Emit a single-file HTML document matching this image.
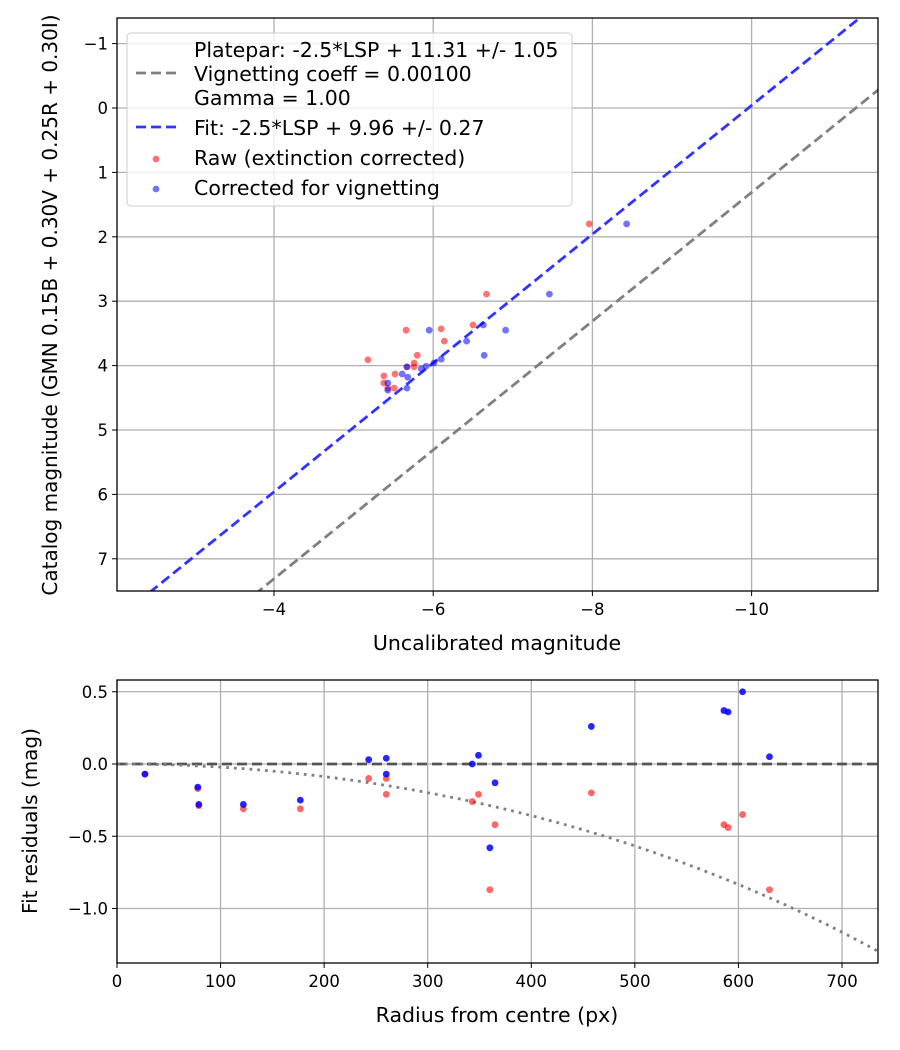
<!DOCTYPE html>
<html><head><meta charset="utf-8"><style>
body{margin:0;background:#fff}
svg{display:block;font-family:"DejaVu Sans","Liberation Sans",sans-serif}
</style></head><body>
<svg id="c" width="900" height="1050" viewBox="0 0 900 1050"></svg>
<script>
// Top panel data
const rawX=[-7.96,-6.67,-5.66,-6.10,-6.14,-6.50,-5.18,-5.80,-5.76,-5.67,-5.76,-5.38,-5.38,-5.43,-5.51,-5.52];
const rawY=[1.80,2.89,3.45,3.43,3.62,3.37,3.91,3.84,3.96,4.02,4.02,4.16,4.27,4.35,4.35,4.13];
const corX=[-8.43,-7.46,-6.91,-6.63,-6.42,-6.64,-5.95,-6.10,-6.01,-5.91,-5.67,-5.85,-5.61,-5.68,-5.43,-5.43,-5.67];
const corY=[1.80,2.89,3.45,3.37,3.62,3.84,3.45,3.90,3.96,4.01,4.02,4.05,4.13,4.18,4.27,4.38,4.35];
const fitOffset=9.96, plateOffset=11.31;
const topXTicks=[-4,-6,-8,-10];
const topYTicks=[-1,0,1,2,3,4,5,6,7];
// Bottom panel data
const radius=[27,78,79,122,177,243,260,260,343,349,365,360,458,586,590,604,630];
const resRaw=[-0.07,-0.17,-0.29,-0.31,-0.31,-0.10,-0.10,-0.21,-0.26,-0.21,-0.42,-0.87,-0.20,-0.42,-0.44,-0.35,-0.87];
const resCor=[-0.07,-0.16,-0.28,-0.28,-0.25,0.03,0.04,-0.07,0.00,0.06,-0.13,-0.58,0.26,0.37,0.36,0.50,0.05];
const vignCoeff=0.001;
const botXTicks=[0,100,200,300,400,500,600,700];
const botYTicks=[0.5,0.0,-0.5,-1.0];

const svg=document.getElementById('c');
const NS='http://www.w3.org/2000/svg';
function el(t,a,p){const e=document.createElementNS(NS,t);for(const k in a)e.setAttribute(k,a[k]);(p||svg).appendChild(e);return e;}
const fmt=v=>(v<0?'\u2212':'')+Math.abs(v);
const fmt1=v=>(v<0?'\u2212':'')+Math.abs(v).toFixed(1);

// Top axes
const T={l:117,r:878,t:18,b:591};
const tx=v=>274+(-4-v)*79.6;
const ty=v=>108+v*64.4;
const gT=el('g',{});


el('defs',{}).innerHTML='<clipPath id="cT"><rect x="117" y="18" width="761" height="573"/></clipPath><clipPath id="cB"><rect x="117" y="680" width="761" height="283"/></clipPath>';
topXTicks.forEach(v=>{const x=tx(v);
 const g=el('line',{x1:x,x2:x,y1:T.t,y2:T.b,stroke:'#b0b0b0','stroke-width':1.3},gT);
 el('line',{x1:x,x2:x,y1:T.b,y2:T.b+5,stroke:'#000'},gT);
 const t=el('text',{x:x,y:T.b+24,'text-anchor':'middle','font-size':16.5},gT);t.textContent=fmt(v);});
topYTicks.forEach(v=>{const y=ty(v);
 const g=el('line',{x1:T.l,x2:T.r,y1:y,y2:y,stroke:'#b0b0b0','stroke-width':1.3},gT);
 el('line',{x1:T.l-5,x2:T.l,y1:y,y2:y,stroke:'#000'},gT);
 const t=el('text',{x:T.l-9,y:y+6,'text-anchor':'end','font-size':16.5},gT);t.textContent=fmt(v);});
const cT=el('g',{'clip-path':'url(#cT)'},gT);
const xa=-2.0,xb=-11.7;
const pl=el('line',{x1:tx(xa),y1:ty(xa+plateOffset),x2:tx(xb),y2:ty(xb+plateOffset),stroke:'#808080','stroke-width':2.8,'stroke-dasharray':'10 5'},cT);

const fl=el('line',{x1:tx(xa),y1:ty(xa+fitOffset),x2:tx(xb),y2:ty(xb+fitOffset),stroke:'#3333ff','stroke-width':2.8,'stroke-dasharray':'10 5'},cT);

rawX.forEach((v,i)=>{const c=el('circle',{cx:tx(v),cy:ty(rawY[i]),r:3.4,fill:'rgba(255,0,0,0.55)'},cT);});
corX.forEach((v,i)=>{const c=el('circle',{cx:tx(v),cy:ty(corY[i]),r:3.4,fill:'rgba(0,0,255,0.55)'},cT);});
el('rect',{x:T.l,y:T.t,width:T.r-T.l,height:T.b-T.t,fill:'none',stroke:'#000','stroke-width':1.3},gT);
let t=el('text',{x:497,y:650,'text-anchor':'middle','font-size':20.5},gT);t.textContent='Uncalibrated magnitude';
t=el('text',{x:0,y:0,'text-anchor':'middle','font-size':20,transform:'translate(57,305) rotate(-90)'},gT);t.textContent='Catalog magnitude (GMN 0.15B + 0.30V + 0.25R + 0.30I)';

// Legend
const L=el('g',{});
el('rect',{x:127,y:33,width:445,height:173,rx:4,fill:'rgba(255,255,255,0.8)',stroke:'#ccc'},L);
el('line',{x1:136,x2:178,y1:73,y2:73,stroke:'#808080','stroke-width':2.8,'stroke-dasharray':'10 5'},L);
el('line',{x1:136,x2:178,y1:127,y2:127,stroke:'#3333ff','stroke-width':2.8,'stroke-dasharray':'10 5'},L);
el('circle',{cx:156,cy:159,r:3.4,fill:'rgba(255,0,0,0.55)'},L);
el('circle',{cx:156,cy:189,r:3.4,fill:'rgba(0,0,255,0.55)'},L);
[['Platepar: -2.5*LSP + 11.31 +/- 1.05',56],['Vignetting coeff = 0.00100',80],['Gamma = 1.00',104],['Fit: -2.5*LSP + 9.96 +/- 0.27',134],['Raw (extinction corrected)',164],['Corrected for vignetting',194]].forEach(a=>{const e=el('text',{x:194,y:a[1]+1,'font-size':20.5},L);e.textContent=a[0];});

// Bottom axes
const B={l:117,r:878,t:680,b:963};
const bx=v=>117+v*1.0357;
const by=v=>764-v*144.5;
const gB=el('g',{});
botXTicks.forEach(v=>{const x=bx(v);
 const g=el('line',{x1:x,x2:x,y1:B.t,y2:B.b,stroke:'#b0b0b0','stroke-width':1.3},gB);
 el('line',{x1:x,x2:x,y1:B.b,y2:B.b+5,stroke:'#000'},gB);
 const e=el('text',{x:x,y:B.b+24,'text-anchor':'middle','font-size':16.5},gB);e.textContent=v;});
botYTicks.forEach(v=>{const y=by(v);
 const g=el('line',{x1:B.l,x2:B.r,y1:y,y2:y,stroke:'#b0b0b0','stroke-width':1.3},gB);
 el('line',{x1:B.l-5,x2:B.l,y1:y,y2:y,stroke:'#000'},gB);
 const e=el('text',{x:B.l-9,y:y+6,'text-anchor':'end','font-size':16.5},gB);e.textContent=fmt1(v);});
const cB=el('g',{'clip-path':'url(#cB)'},gB);
const zl=el('line',{x1:B.l,x2:B.r,y1:by(0),y2:by(0),stroke:'#555','stroke-width':2.8,'stroke-dasharray':'10 5'},cB);

let d='';for(let r=0;r<=740;r+=5){const c=Math.cos(r*vignCoeff);const m=2.5*Math.log10(Math.pow(c,4));d+=(r?'L':'M')+bx(r).toFixed(1)+','+by(m).toFixed(1);}
const vc=el('path',{d:d,fill:'none',stroke:'#808080','stroke-width':2.8,'stroke-dasharray':'2.8 5'},cB);

radius.forEach((v,i)=>{const c=el('circle',{cx:bx(v),cy:by(resRaw[i]),r:3.4,fill:'rgba(255,0,0,0.6)'},cB);});
radius.forEach((v,i)=>{const c=el('circle',{cx:bx(v),cy:by(resCor[i]),r:3.4,fill:'rgba(0,0,255,0.85)'},cB);});
el('rect',{x:B.l,y:B.t,width:B.r-B.l,height:B.b-B.t,fill:'none',stroke:'#000','stroke-width':1.3},gB);
t=el('text',{x:497,y:1022,'text-anchor':'middle','font-size':20.5},gB);t.textContent='Radius from centre (px)';
t=el('text',{x:0,y:0,'text-anchor':'middle','font-size':20,transform:'translate(37,821) rotate(-90)'},gB);t.textContent='Fit residuals (mag)';
</script>
</body></html>
